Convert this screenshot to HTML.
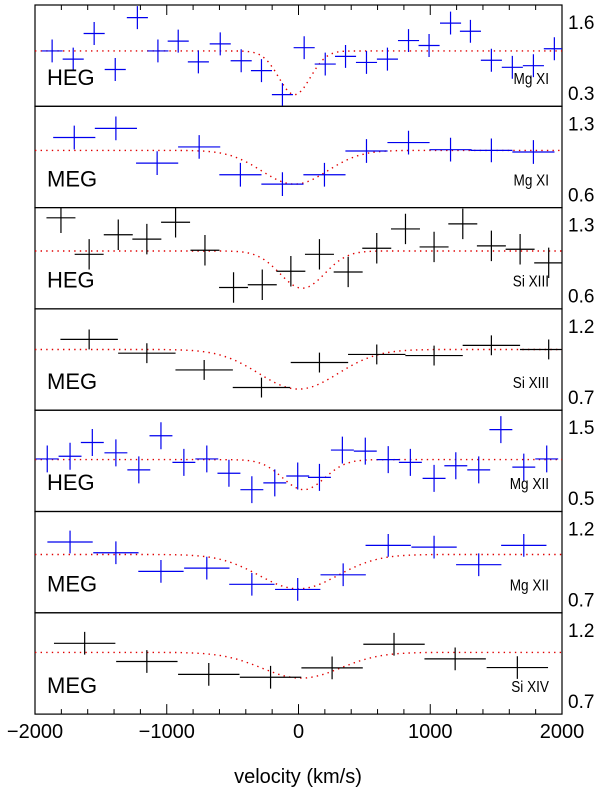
<!DOCTYPE html>
<html><head><meta charset="utf-8"><style>
html,body{margin:0;padding:0;background:#fff;}
svg{display:block;font-family:"Liberation Sans",Arial,sans-serif;}
</style></head><body>
<svg id="chart" width="600" height="795" viewBox="0 0 600 795"></svg>
<script>
// ---- data ----
const panelInstruments = ["HEG","MEG","HEG","MEG","HEG","MEG","MEG"];
const panelIons = ["Mg XI","Mg XI","Si XIII","Si XIII","Mg XII","Mg XII","Si XIV"];
const panelColors = ["#0000ee","#0000ee","#000000","#000000","#0000ee","#0000ee","#000000"];
const yTickHigh = [1.6,1.3,1.3,1.2,1.5,1.2,1.2];
const yTickLow = [0.3,0.6,0.6,0.7,0.5,0.7,0.7];
const binHalfWidth = [80,160,110,218,87,172,233];
const errHalf = [0.21,0.117,0.15,0.07,0.19,0.08,0.08];
const modelContinuum = [1.07,1.033,1.04,1.034,1.043,1.017,1.041];
const modelMin = [0.27,0.70,0.673,0.755,0.62,0.775,0.86];
const modelCenter = [-30,-30,29,0,40,0,20];
const modelSigma = [120,250,170,300,160,300,300];

const vel1 = [-1870,-1710,-1551,-1391,-1223,-1067,-913,-760,-594,-435,-281,-122,43,203,357,516,675,835,991,1154,1305,1464,1623,1783,1942];
const val1 = [1.07,0.92,1.39,0.73,1.68,1.07,1.25,0.87,1.20,0.89,0.71,0.27,1.13,0.83,0.97,0.86,0.92,1.26,1.17,1.58,1.43,0.90,0.77,0.80,1.11];
const vel2 = [-1702,-1386,-1073,-754,-441,-122,197,516,835,1154,1464,1783];
const val2 = [1.16,1.25,0.907,1.067,0.793,0.70,0.793,1.027,1.11,1.04,1.033,1.017];
const vel3 = [-1803,-1589,-1368,-1151,-933,-710,-493,-275,-58,159,377,594,812,1029,1247,1464,1682,1899];
const val3 = [1.367,1.007,1.2,1.157,1.323,1.047,0.68,0.707,0.84,1.007,0.833,1.067,1.257,1.08,1.307,1.09,1.057,0.923];
const vel4 = [-1589,-1151,-716,-281,159,594,1029,1464,1899];
const val4 = [1.105,1.008,0.89,0.766,0.942,0.999,0.991,1.063,1.034];
const vel5 = [-1907,-1734,-1565,-1386,-1212,-1044,-870,-696,-528,-354,-180,-6,159,333,507,681,849,1029,1194,1368,1536,1710,1884];
const val5 = [1.053,1.091,1.284,1.139,0.899,1.38,1.005,1.053,0.851,0.62,0.716,0.813,0.793,1.178,1.163,1.043,1.005,0.779,0.957,0.899,1.466,0.938,1.053];
const vel6 = [-1734,-1386,-1044,-696,-354,-6,339,681,1029,1368,1710];
const val6 = [1.105,1.029,0.898,0.921,0.807,0.771,0.874,1.081,1.069,0.945,1.081];
const vel7 = [-1623,-1151,-681,-212,255,725,1189,1661];
const val7 = [1.105,0.977,0.886,0.866,0.932,1.098,0.995,0.934];
const xTicks = [-2000,-1000,0,1000,2000];
const xTickLabels = ["\u22122000","\u22121000","0","1000","2000"];

const vels = [vel1,vel2,vel3,vel4,vel5,vel6,vel7];
const vals = [val1,val2,val3,val4,val5,val6,val7];

// ---- layout ----
const svg = document.getElementById('chart');
const NS = "http://www.w3.org/2000/svg";
const L = 35, R = 562, TOP = 5, PH = 101.3;
const xs = v => L + (v + 2000) / 4000 * (R - L);
function mk(tag, attrs, parent){
  const e = document.createElementNS(NS, tag);
  for (const k in attrs) e.setAttribute(k, attrs[k]);
  (parent || svg).appendChild(e);
  return e;
}

for (let p = 0; p < 7; p++) {
  const top = TOP + p * PH, bot = top + PH;
  const hiY = top + 17, loY = top + 88;
  const ys = val => hiY + (yTickHigh[p] - val) / (yTickHigh[p] - yTickLow[p]) * (loY - hiY);
  const g = mk('g', {});
  
  

  const frame = mk('rect', {x: L, y: top, width: R - L, height: PH, fill: 'none', stroke: '#000', 'stroke-width': 1.2}, g);
  
  

  let d = '';
  for (let v = -2000; v <= 2000; v += 10) {
    const m = modelContinuum[p] - (modelContinuum[p] - modelMin[p]) * Math.exp(-0.5 * Math.pow((v - modelCenter[p]) / modelSigma[p], 2));
    d += (v === -2000 ? 'M' : 'L') + xs(v).toFixed(1) + ',' + ys(m).toFixed(1);
  }
  const model = mk('path', {d: d, fill: 'none', stroke: '#e00000', 'stroke-width': 1.4, 'stroke-dasharray': '1.4 4.2'}, g);
  
  

  for (let i = 0; i < vels[p].length; i++) {
    const cx = xs(vels[p][i]), cy = ys(vals[p][i]);
    const x1 = Math.max(L, xs(vels[p][i] - binHalfWidth[p])), x2 = Math.min(R, xs(vels[p][i] + binHalfWidth[p]));
    const pt = mk('path', {d: `M${x1},${cy}H${x2}M${cx},${Math.max(top, ys(vals[p][i] + errHalf[p]))}V${Math.min(bot, ys(vals[p][i] - errHalf[p]))}`,
      stroke: panelColors[p], 'stroke-width': 1.2, fill: 'none'}, g);
    
    
  }

  const inst = mk('text', {x: 47, y: top + 80, 'font-size': 22, fill: '#000'}, g);
  inst.textContent = panelInstruments[p];
  
  

  const ion = mk('text', {x: 0, y: 0, 'font-size': 16, fill: '#000', 'text-anchor': 'end', transform: `translate(549,${top + 79}) scale(0.85,1)`}, g);
  ion.textContent = panelIons[p];
  
  

  const th = mk('text', {x: 568, y: hiY + 7, 'font-size': 19, fill: '#000'}, g);
  th.textContent = yTickHigh[p].toFixed(1);
  
  
  const tl = mk('text', {x: 568, y: loY + 7, 'font-size': 19, fill: '#000'}, g);
  tl.textContent = yTickLow[p].toFixed(1);
  
  
}

const yTopAxis = TOP, yBotAxis = TOP + 7 * PH;
for (let v = -2000; v <= 2000; v += 200) {
  const major = v % 1000 === 0;
  const len = major ? 10 : 5;
  const t1 = mk('line', {x1: xs(v), x2: xs(v), y1: yTopAxis, y2: yTopAxis + len, stroke: '#000', 'stroke-width': 1});
  
  
  const t2 = mk('line', {x1: xs(v), x2: xs(v), y1: yBotAxis, y2: yBotAxis - len, stroke: '#000', 'stroke-width': 1});
  
  
}
for (let i = 0; i < xTicks.length; i++) {
  const t = mk('text', {x: xs(xTicks[i]), y: yBotAxis + 24, 'font-size': 20, 'text-anchor': 'middle', fill: '#000'});
  t.textContent = xTickLabels[i];
  
  
}
const xt = mk('text', {x: 298, y: 783, 'font-size': 20, 'text-anchor': 'middle', fill: '#000'});
xt.textContent = 'velocity (km/s)';


</script>
</body></html>
